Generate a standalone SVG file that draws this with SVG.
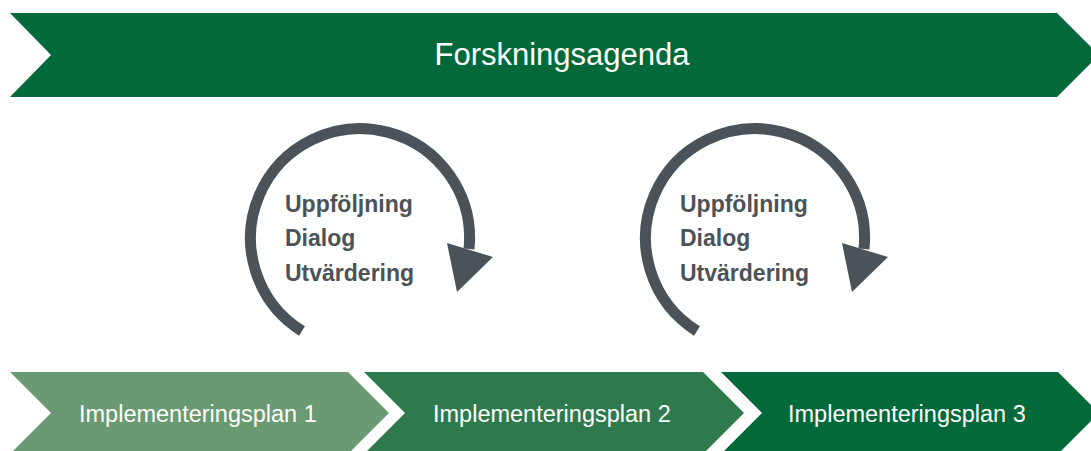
<svg xmlns="http://www.w3.org/2000/svg" width="1091" height="451" viewBox="0 0 1091 451">
<style>
.banner{fill:#01693a}
.c1{fill:#6a9a71}
.c2{fill:#2e7a4d}
.c3{fill:#01693a}
.wt{font-family:"Liberation Sans",Arial,sans-serif;fill:#ffffff}
.lbl{font-family:"Liberation Sans",Arial,sans-serif;font-weight:bold;font-size:23px;fill:#4b5258}
.arc{fill:none;stroke:#4b5258;stroke-width:11}
.head{fill:#4b5258}
</style>
<rect width="1091" height="451" fill="#ffffff"/>
<g id="forskningsagenda">
<polygon class="banner" points="10,13 1057,13 1099,55 1057,97 10,97 51,55"/>
<text class="wt" x="562" y="65" font-size="31" text-anchor="middle">Forskningsagenda</text>
</g>
<g id="plan1">
<polygon class="c1" points="10,372 348,372 389,413 348,454 10,454 51,413"/>
<text class="wt" x="79" y="422" font-size="23.5">Implementeringsplan 1</text>
</g>
<g id="plan2">
<polygon class="c2" points="364,372 703,372 744,413 703,454 364,454 405,413"/>
<text class="wt" x="433" y="422" font-size="23.5">Implementeringsplan 2</text>
</g>
<g id="plan3">
<polygon class="c3" points="721,372 1058,372 1099,413 1058,454 721,454 762,413"/>
<text class="wt" x="788" y="422" font-size="23.5">Implementeringsplan 3</text>
</g>
<g id="connectors">
<g id="cycle1-arrow">
<path class="arc" d="M302,331 A109.5,109.5 0 1 1 469,249"/>
<polygon class="head" points="447,243 493,257 457,292"/>
</g>
<g id="cycle2-arrow" transform="translate(395,0)">
<path class="arc" d="M302,331 A109.5,109.5 0 1 1 469,249"/>
<polygon class="head" points="447,243 493,257 457,292"/>
</g>
</g>
<g id="cycle1">
<text class="lbl" x="285" y="212">Uppföljning</text>
<text class="lbl" x="285" y="246">Dialog</text>
<text class="lbl" x="285" y="281">Utvärdering</text>
</g>
<g id="cycle2">
<text class="lbl" x="680" y="212">Uppföljning</text>
<text class="lbl" x="680" y="246">Dialog</text>
<text class="lbl" x="680" y="281">Utvärdering</text>
</g>
</svg>
